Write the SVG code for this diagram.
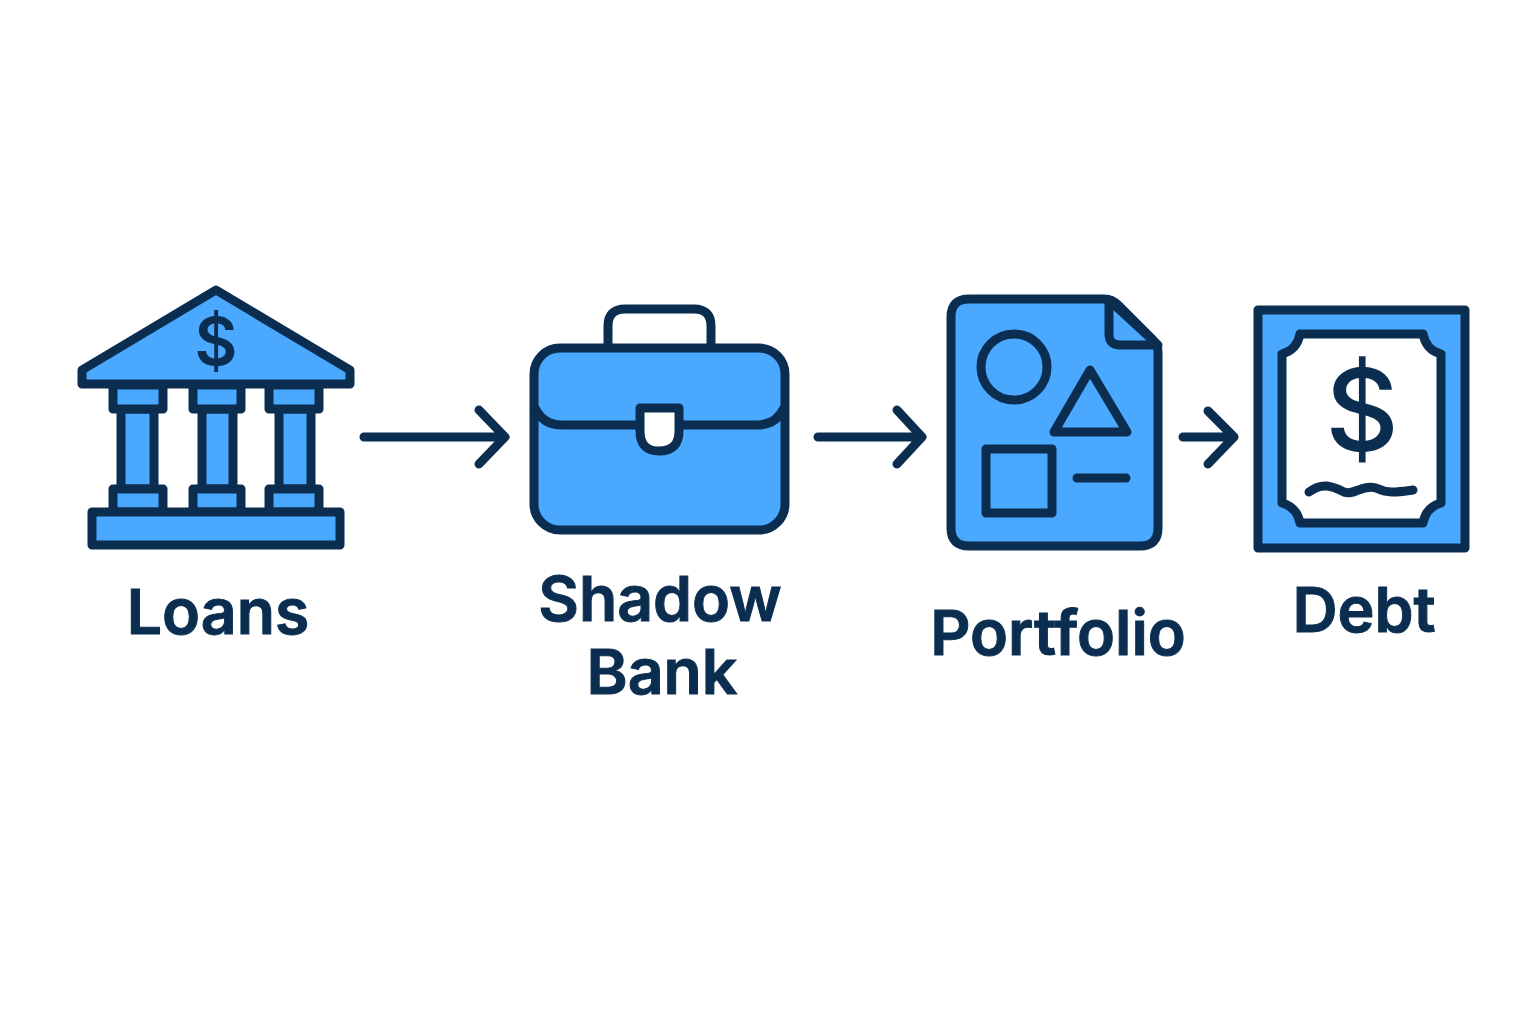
<svg xmlns="http://www.w3.org/2000/svg" width="1536" height="1024" viewBox="0 0 1536 1024">
<style>
.s{fill:#4aa8ff;stroke:#0b2e50;stroke-width:9;stroke-linejoin:round;stroke-linecap:round}
.w{fill:#fff;stroke:#0b2e50;stroke-width:9;stroke-linejoin:round;stroke-linecap:round}
.l{fill:none;stroke:#0b2e50;stroke-width:9;stroke-linejoin:round;stroke-linecap:round}
.t{font-family:Inter,"Liberation Sans",sans-serif;font-weight:600;font-size:62.5px;fill:#0b2e50;stroke:#0b2e50;stroke-width:1;text-anchor:middle}
.d{font-family:Inter,"Liberation Sans",sans-serif;font-weight:600;fill:#0b2e50;text-anchor:middle}
</style>
<rect width="1536" height="1024" fill="#fff"/>
<g id="connectors">
<path class="l" d="M364 437H505M479 410L505 437L479 464"/>
<path class="l" d="M818 437H922M897 410L922 437L897 464"/>
<path class="l" d="M1183 437H1234M1208 411L1234 437L1208 464"/>
</g>
<g id="loans">
<path class="s" d="M121 409H154V489H121ZM202 409H233V489H202ZM279 409H311V489H279Z"/>
<path class="s" d="M113 385H163V409H113ZM193 385H241V409H193ZM269 385H319V409H269Z"/>
<path class="s" d="M113 489H163V512H113ZM193 489H241V512H193ZM269 489H319V512H269Z"/>
<rect class="s" x="92" y="512" width="248" height="33"/>
<path class="s" d="M216 290L350 370V384H82V370Z"/>
<text class="d" x="216" y="365" font-size="66">$</text>
<text class="t" x="218" y="634">Loans</text>
</g>
<g id="shadow-bank">
<path class="l" d="M608 348V326Q608 309 625 309H694Q711 309 711 326V348"/>
<rect class="s" x="534" y="348" width="251" height="182" rx="26"/>
<path class="l" d="M535 408Q543 425 562 425H637M682 425H757Q776 425 784 408"/>
<path class="w" d="M640 408H679V431Q679 451 659 451Q640 451 640 431Z"/>
<text class="t" x="660" y="621">Shadow</text>
<text class="t" x="662" y="694">Bank</text>
</g>
<g id="portfolio">
<path class="s" d="M969 299H1104Q1112 299 1118 305L1152 339Q1158 345 1158 352V528Q1158 546 1140 546H969Q951 546 951 528V317Q951 299 969 299Z"/>
<path class="s" d="M1109 300V334Q1109 345 1120 345H1158Z"/>
<circle class="s" cx="1014" cy="367" r="33"/>
<path class="s" d="M1090 370L1127 432H1054Z"/>
<rect class="s" x="986" y="449" width="66" height="64"/>
<path class="l" d="M1077 478H1126"/>
<text class="t" x="1058" y="655">Portfolio</text>
</g>
<g id="debt">
<rect class="s" x="1258" y="310" width="207" height="238"/>
<path class="w" d="M1300 334H1423Q1426 350 1441 354V503Q1426 507 1423 523H1300Q1297 507 1282 503V354Q1297 350 1300 334Z"/>
<text class="d" x="1362" y="451" font-size="114" style="font-weight:500">$</text>
<path class="l" d="M1309 492C1322 482 1332 486 1344 492C1354 496 1362 484 1376 488C1388 494 1398 492 1413 490"/>
<text class="t" x="1364" y="632">Debt</text>
</g>
</svg>
